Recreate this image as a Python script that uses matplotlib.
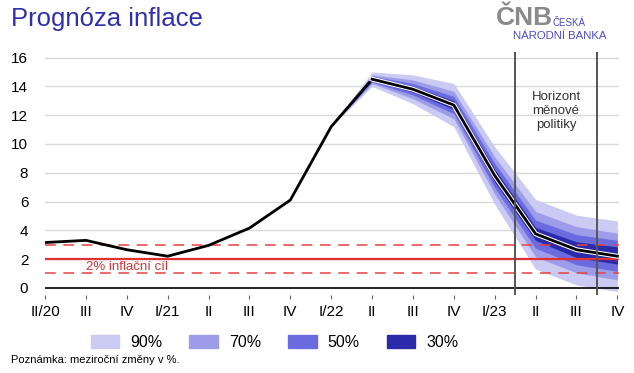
import matplotlib.pyplot as plt
import matplotlib.patheffects as pe
from matplotlib.patches import Rectangle

plt.rcParams['font.family'] = ['Liberation Sans', 'DejaVu Sans']

# quarters II/20 .. IV/23
tick_labels = ['II/20', 'III', 'IV', 'I/21', 'II', 'III', 'IV', 'I/22',
               'II', 'III', 'IV', 'I/23', 'II', 'III', 'IV']
inflation = [3.15, 3.3, 2.65, 2.2, 2.95, 4.15, 6.1, 11.2,
             14.5, 13.8, 12.7, 7.8, 3.75, 2.65, 2.2]

# forecast fan, starts at I/22 (index 7)
fan_start = 7
fan_90_lo = [11.2, 14.0, 12.8, 11.2, 5.8, 1.3, 0.2, -0.25]
fan_90_hi = [11.2, 15.0, 14.8, 14.2, 9.8, 6.15, 5.05, 4.65]
fan_70_lo = [11.2, 14.2, 13.15, 11.75, 6.5, 2.15, 1.05, 0.55]
fan_70_hi = [11.2, 14.8, 14.45, 13.65, 9.1, 5.3, 4.25, 3.8]
fan_50_lo = [11.2, 14.3, 13.4, 12.1, 6.95, 2.75, 1.6, 1.15]
fan_50_hi = [11.2, 14.7, 14.2, 13.3, 8.65, 4.7, 3.7, 3.3]
fan_30_lo = [11.2, 14.4, 13.6, 12.4, 7.35, 3.3, 2.1, 1.65]
fan_30_hi = [11.2, 14.6, 14.0, 13.0, 8.25, 4.2, 3.2, 2.85]

band_labels = ['90%', '70%', '50%', '30%']
band_colors = ['#cacaf3', '#9c9ce8', '#6b6bdf', '#2a2aaa']

target = 2
tol_lo, tol_hi = 1, 3
horizon = [11.5, 13.5]

fig = plt.figure(figsize=(6.34, 3.73), dpi=100)
ax = fig.add_axes([0.071, 0.209, 0.906, 0.652])

x = list(range(len(inflation)))
xf = x[fan_start:]
bands = [(fan_90_lo, fan_90_hi), (fan_70_lo, fan_70_hi),
         (fan_50_lo, fan_50_hi), (fan_30_lo, fan_30_hi)]
for (lo, hi), c in zip(bands, band_colors):
    ax.fill_between(xf, lo, hi, color=c, lw=0, zorder=2)

for yv in range(2, 17, 2):
    ax.axhline(yv, color='#d9d9d9', lw=1, zorder=1)
ax.axhline(0, color='black', lw=1.2, zorder=3)

ax.axhline(target, color='#e03030', lw=1.6, zorder=3)
ax.axhline(tol_lo, color='#e84040', lw=1.1, ls=(0, (7, 5)), zorder=3)
ax.axhline(tol_hi, color='#e84040', lw=1.1, ls=(0, (7, 5)), zorder=3)
ax.text(2.0, 1.45, '2% inflační cíl', color='#e03030', fontsize=9.5,
        ha='center', va='center', zorder=4)

# history plain, forecast with a thin white edge
ax.plot(x[:fan_start + 2], inflation[:fan_start + 2], color='black', lw=2, zorder=5)
ax.plot(x[fan_start + 1:], inflation[fan_start + 1:], color='black', lw=2, zorder=5,
        path_effects=[pe.Stroke(linewidth=3.5, foreground='white'), pe.Normal()])

for h in horizon:
    ax.axvline(h, color='#555555', lw=1.4, zorder=6)
ax.text(12.5, 12.3, 'Horizont\nměnové\npolitiky', color='#333333', fontsize=9.5,
        ha='center', va='center', linespacing=1.25)

ax.set_xlim(0, 14.05)
ax.set_ylim(-0.5, 16.4)
ax.set_xticks(x)
ax.set_xticklabels(tick_labels, fontsize=11)
ax.set_yticks(range(0, 17, 2))
ax.tick_params(axis='y', length=0, labelsize=11, pad=12)
ax.tick_params(axis='x', length=3, color='#666666', pad=4)
for s in ax.spines.values():
    s.set_visible(False)

# legend
for i, (lab, c) in enumerate(zip(band_labels, band_colors)):
    x0 = 0.143 + i * 0.1557
    fig.patches.append(Rectangle((x0, 0.067), 0.045, 0.035, color=c,
                                 transform=fig.transFigure))
    fig.text(x0 + 0.062, 0.083, lab, fontsize=11.5, va='center')

fig.text(0.018, 0.948, 'Prognóza inflace', color='#2f2fb0', fontsize=18.5, va='center')
# logo
fig.text(0.782, 0.933, 'ČNB', color='#8a8a8a', fontsize=19, va='baseline',
         fontweight='bold')
fig.text(0.871, 0.937, 'ČESKÁ', color='#4a4ad0', fontsize=7, va='center')
fig.text(0.809, 0.903, 'NÁRODNÍ BANKA', color='#4a4ad0', fontsize=8.2, va='center')
fig.text(0.018, 0.035, 'Poznámka: meziroční změny v %.', fontsize=8, va='center')

fig.savefig('out.png', dpi=100)
